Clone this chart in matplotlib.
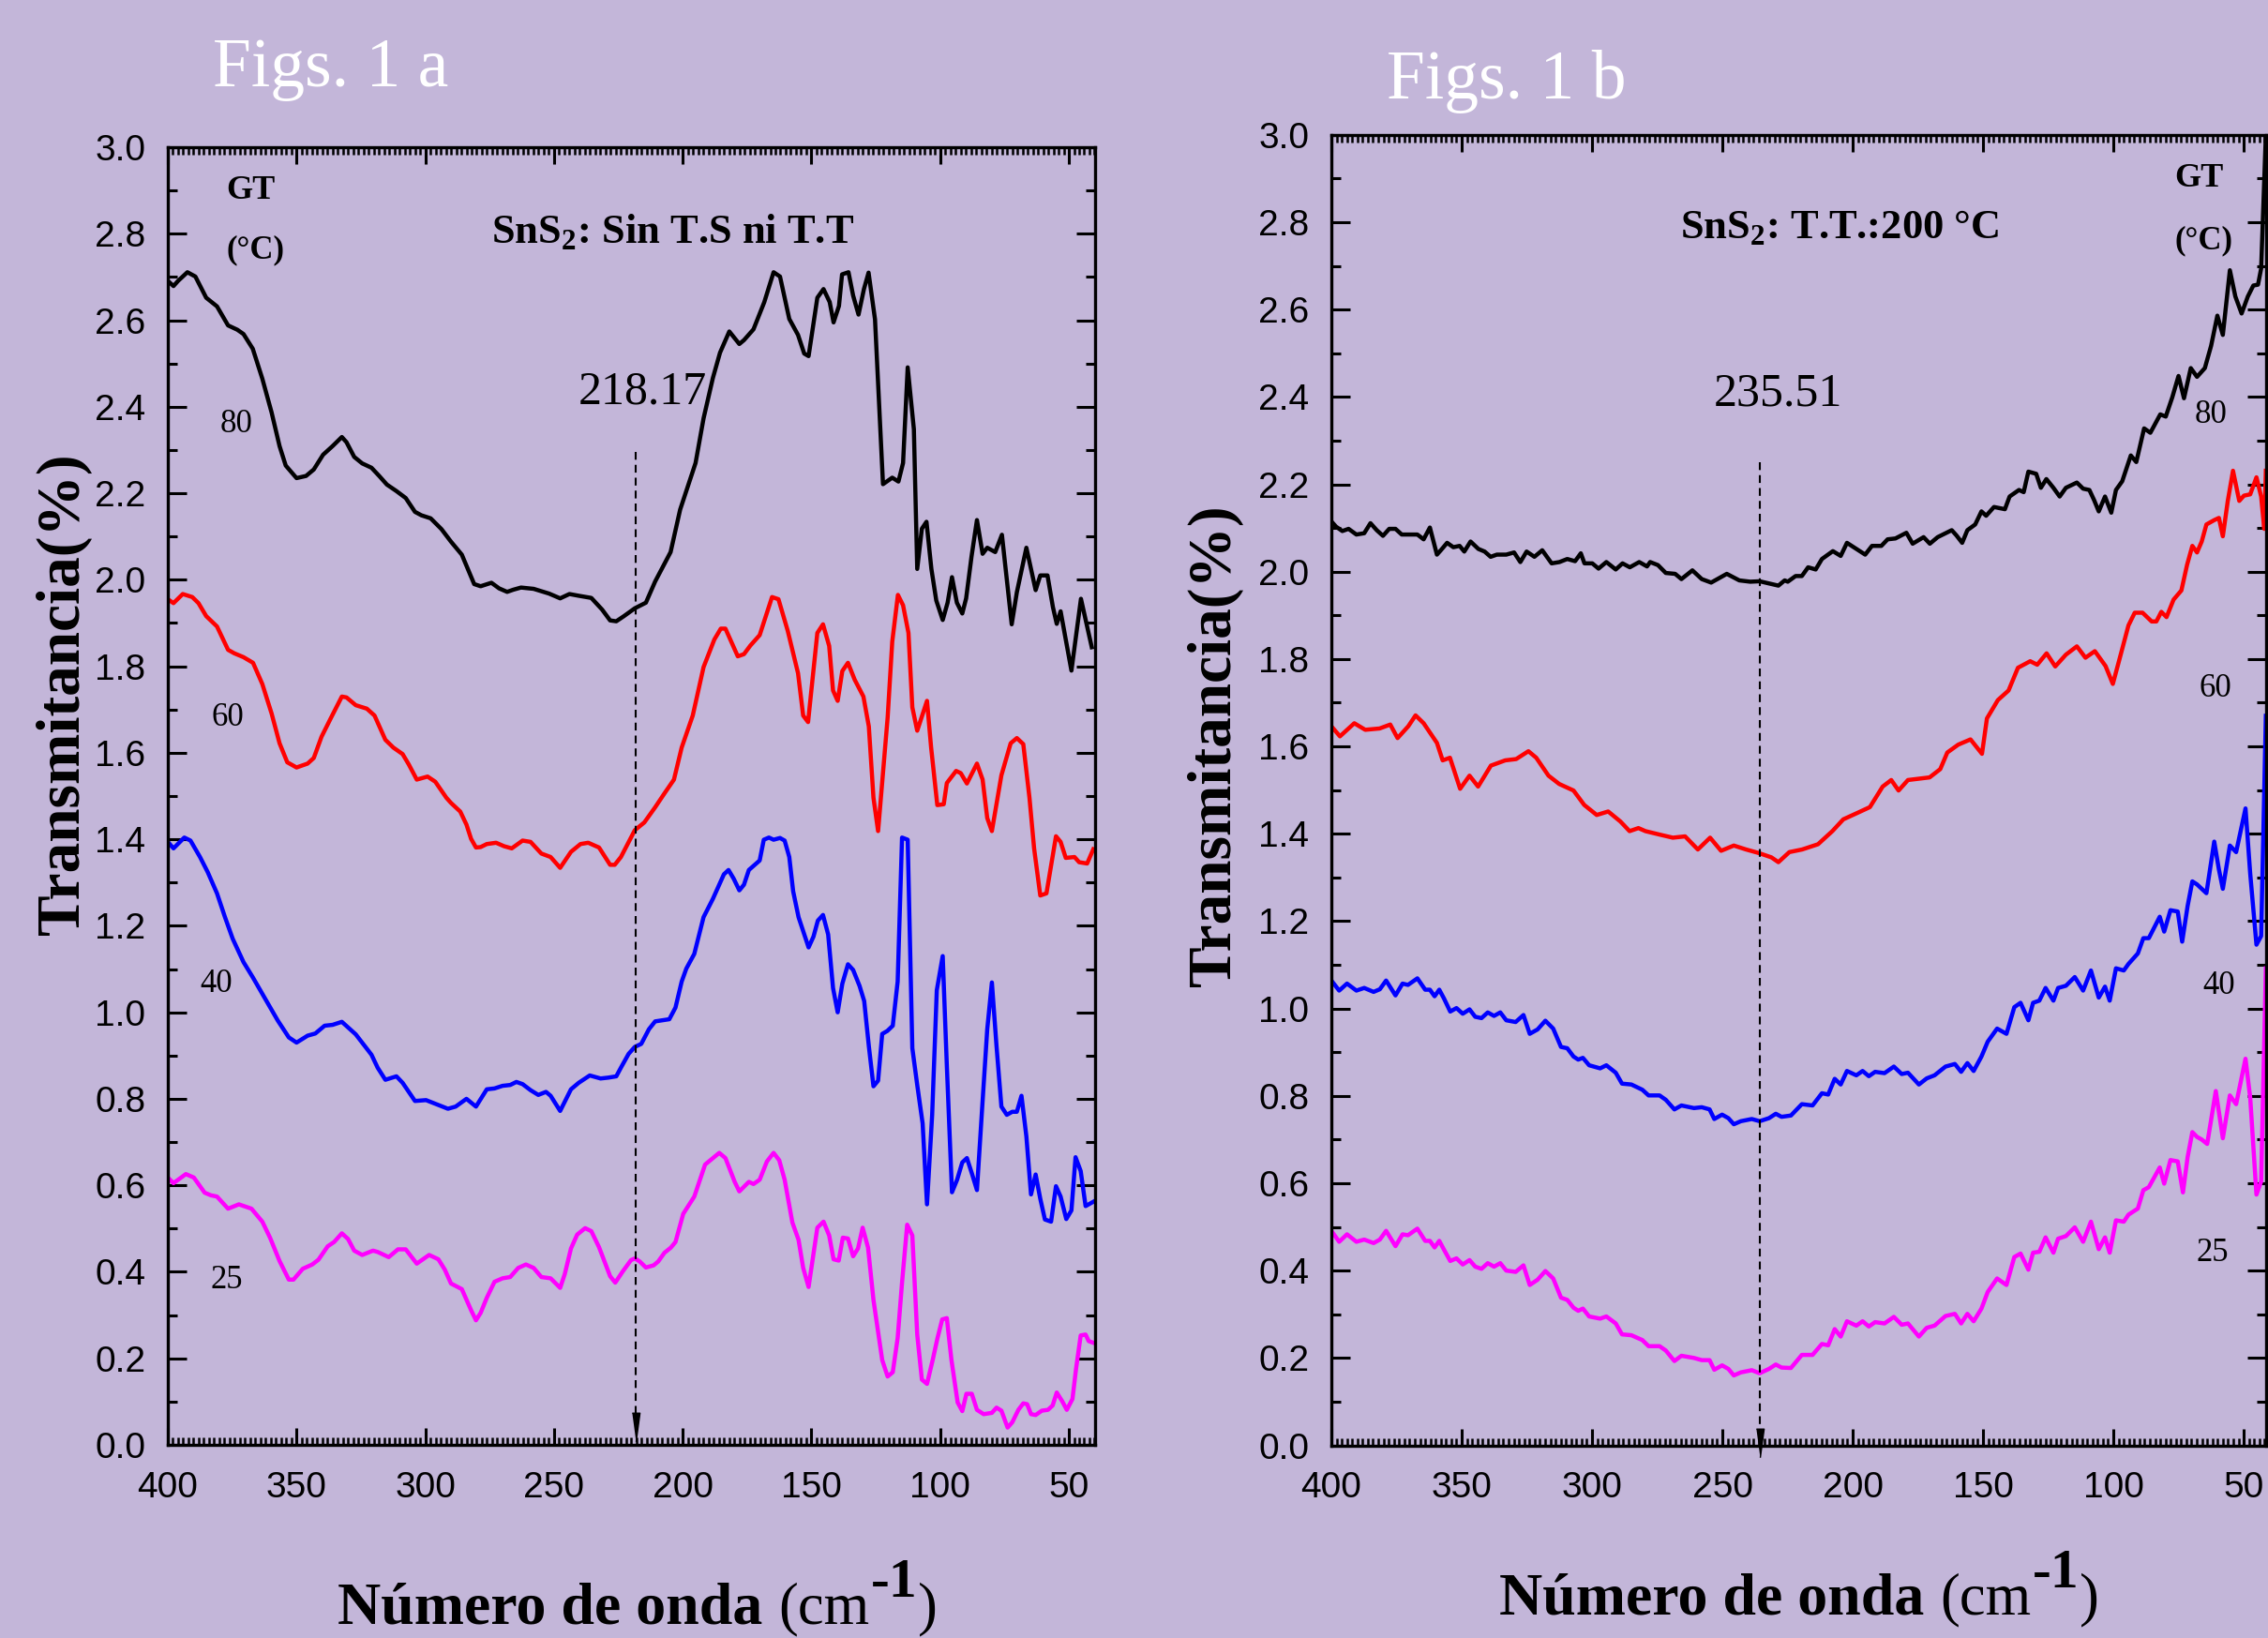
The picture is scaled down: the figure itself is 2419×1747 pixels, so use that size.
import numpy as np
import matplotlib as mpl

mpl.use('agg')

import matplotlib.pyplot as plt
from matplotlib.ticker import MultipleLocator, FormatStrFormatter

## Values: (wavenumber cm-1, transmittance %)
## Fig. 1a  -  SnS2 sin T.S ni T.T
a80 = np.array([
    (400, 2.691), (397.8, 2.679), (396.0, 2.691), (392.4, 2.711), (389.3, 2.701), (385.1, 2.652),
    (380.9, 2.632), (376.6, 2.588), (373.0, 2.578), (370.6, 2.568), (367.0, 2.534), (363.3, 2.465),
    (359.7, 2.387), (356.6, 2.309), (354.2, 2.264), (350.0, 2.235), (346.3, 2.240), (343.3, 2.255),
    (339.7, 2.289), (336.0, 2.309), (332.4, 2.330), (330.6, 2.318), (327.6, 2.284), (324.5, 2.269),
    (320.9, 2.259), (317.9, 2.240), (314.9, 2.220), (311.2, 2.205), (307.6, 2.189), (304.0, 2.157),
    (301.5, 2.149), (297.9, 2.142), (293.7, 2.117), (290.0, 2.088), (285.8, 2.058), (283.4, 2.024),
    (281.0, 1.990), (278.5, 1.985), (274.3, 1.993), (271.3, 1.980), (268.2, 1.972), (265.8, 1.977),
    (262.8, 1.982), (257.9, 1.979), (251.9, 1.968), (247.6, 1.957), (244.0, 1.967), (240.4, 1.963),
    (235.5, 1.958), (231.3, 1.931), (228.2, 1.906), (225.8, 1.904), (222.8, 1.916), (218.6, 1.934),
    (214.3, 1.947), (210.7, 1.996), (204.7, 2.064), (201.0, 2.162), (195.0, 2.270), (191.9, 2.373),
    (188.3, 2.466), (185.5, 2.525), (181.9, 2.574), (178.0, 2.545), (176.2, 2.554), (172.5, 2.579),
    (168.3, 2.642), (164.7, 2.711), (162.2, 2.701), (158.6, 2.603), (155.2, 2.566), (152.8, 2.523),
    (151.1, 2.517), (147.7, 2.652), (145.3, 2.672), (142.9, 2.642), (141.4, 2.595), (139.3, 2.633),
    (138.1, 2.706), (135.6, 2.711), (133.8, 2.657), (131.7, 2.613), (129.6, 2.672), (127.8, 2.710),
    (125.3, 2.602), (122.2, 2.221), (118.6, 2.236), (116.2, 2.227), (114.4, 2.270), (112.6, 2.491),
    (110.2, 2.348), (108.9, 2.025), (107.1, 2.118), (105.3, 2.134), (103.4, 2.025), (101.5, 1.952),
    (99.0, 1.907), (97.1, 1.947), (95.4, 2.006), (93.5, 1.947), (91.4, 1.922), (89.9, 1.957),
    (87.8, 2.054), (85.7, 2.138), (83.5, 2.060), (81.7, 2.074), (78.6, 2.064), (76.0, 2.104),
    (72.2, 1.897), (70.2, 1.971), (66.5, 2.074), (62.9, 1.976), (61.1, 2.010), (58.3, 2.010),
    (56.2, 1.937), (54.7, 1.898), (53.2, 1.927), (49.0, 1.790), (45.3, 1.956), (41.1, 1.844),
])
a60 = np.array([
    (400, 1.955), (397.8, 1.946), (394.2, 1.967), (390.5, 1.960), (388.1, 1.946), (385.1, 1.916),
    (380.9, 1.892), (376.6, 1.838), (374.2, 1.830), (370.6, 1.821), (366.9, 1.808), (363.3, 1.759),
    (359.7, 1.691), (356.6, 1.622), (353.6, 1.578), (350.0, 1.566), (345.7, 1.575), (343.3, 1.588),
    (340.3, 1.637), (336.6, 1.681), (332.4, 1.730), (330.6, 1.728), (327.0, 1.710), (322.7, 1.702),
    (319.7, 1.686), (315.5, 1.630), (312.4, 1.612), (308.8, 1.597), (306.4, 1.573), (303.3, 1.538),
    (299.1, 1.545), (296.1, 1.533), (291.8, 1.496), (290.0, 1.484), (286.4, 1.464), (284.0, 1.434),
    (282.2, 1.401), (280.3, 1.381), (278.5, 1.382), (276.1, 1.389), (272.5, 1.392), (269.4, 1.384),
    (266.4, 1.379), (262.2, 1.397), (259.1, 1.394), (254.9, 1.367), (251.3, 1.359), (247.6, 1.334),
    (243.4, 1.371), (239.7, 1.389), (236.7, 1.392), (232.5, 1.381), (228.2, 1.341), (226.4, 1.341),
    (224.0, 1.359), (218.6, 1.421), (214.9, 1.439), (210.7, 1.474), (207.1, 1.506), (203.4, 1.538),
    (200.4, 1.612), (196.1, 1.686), (191.9, 1.798), (187.7, 1.862), (185.2, 1.887), (183.4, 1.887),
    (178.6, 1.823), (176.2, 1.828), (173.7, 1.848), (170.1, 1.872), (165.3, 1.960), (162.8, 1.955),
    (159.2, 1.882), (155.2, 1.784), (153.2, 1.686), (151.3, 1.671), (147.7, 1.877), (145.5, 1.897),
    (143.1, 1.847), (141.6, 1.744), (139.8, 1.720), (138.0, 1.789), (135.8, 1.808), (133.2, 1.769),
    (129.8, 1.730), (127.7, 1.661), (125.9, 1.496), (124.1, 1.419), (120.4, 1.681), (118.6, 1.857),
    (116.4, 1.965), (114.4, 1.941), (112.3, 1.877), (110.8, 1.705), (108.9, 1.651), (105.1, 1.720),
    (103.5, 1.612), (101.1, 1.479), (98.6, 1.481), (97.4, 1.530), (93.8, 1.558), (92.0, 1.553),
    (89.6, 1.529), (85.7, 1.575), (83.5, 1.538), (81.7, 1.449), (79.9, 1.419), (76.2, 1.548),
    (72.6, 1.622), (70.2, 1.634), (67.7, 1.620), (65.3, 1.496), (63.5, 1.379), (61.1, 1.270),
    (58.7, 1.275), (55.0, 1.407), (53.2, 1.394), (51.2, 1.357), (47.8, 1.359), (46.0, 1.347),
    (42.9, 1.344), (40.5, 1.377),
])
a40 = np.array([
    (400, 1.394), (397.8, 1.379), (393.6, 1.404), (391.2, 1.397), (387.5, 1.359), (384.5, 1.324),
    (380.9, 1.275), (377.8, 1.220), (374.8, 1.170), (370.6, 1.116), (367.0, 1.081), (363.3, 1.043),
    (357.3, 0.981), (353.0, 0.942), (350.0, 0.930), (345.7, 0.946), (342.7, 0.951), (339.1, 0.969),
    (336.0, 0.971), (332.4, 0.978), (327.0, 0.949), (320.9, 0.902), (318.5, 0.872), (315.5, 0.844),
    (311.2, 0.852), (308.8, 0.837), (304.0, 0.795), (299.7, 0.797), (296.7, 0.790), (291.2, 0.777),
    (288.2, 0.782), (284.0, 0.800), (280.3, 0.782), (276.1, 0.822), (273.1, 0.824), (270.0, 0.830),
    (267.0, 0.832), (264.6, 0.839), (262.2, 0.834), (259.1, 0.820), (256.1, 0.809), (253.1, 0.816),
    (251.3, 0.807), (247.6, 0.772), (243.4, 0.822), (240.4, 0.837), (236.1, 0.854), (231.9, 0.847),
    (228.9, 0.849), (225.8, 0.852), (224.0, 0.872), (221.0, 0.904), (218.6, 0.920), (216.1, 0.927),
    (213.1, 0.961), (210.7, 0.979), (205.2, 0.984), (202.8, 1.011), (200.4, 1.071), (198.6, 1.101),
    (195.5, 1.135), (191.9, 1.220), (188.3, 1.262), (184.0, 1.319), (182.2, 1.329), (180.2, 1.309),
    (178.0, 1.282), (176.2, 1.295), (174.3, 1.329), (170.1, 1.351), (168.5, 1.399), (166.5, 1.404),
    (164.7, 1.399), (162.2, 1.403), (160.4, 1.397), (158.6, 1.359), (157.1, 1.280), (155.0, 1.220),
    (152.5, 1.175), (151.1, 1.150), (149.2, 1.175), (147.5, 1.212), (145.5, 1.225), (143.5, 1.180),
    (141.6, 1.056), (139.8, 1.000), (138.0, 1.066), (135.8, 1.111), (133.8, 1.098), (131.3, 1.061),
    (129.5, 1.026), (127.7, 0.922), (125.9, 0.829), (124.1, 0.842), (122.5, 0.950), (120.5, 0.957),
    (118.4, 0.969), (116.5, 1.071), (114.8, 1.404), (112.6, 1.399), (110.8, 0.917), (108.9, 0.832),
    (106.8, 0.743), (105.1, 0.556), (103.1, 0.763), (101.3, 1.051), (99.0, 1.130), (97.4, 0.877),
    (95.4, 0.584), (93.4, 0.613), (91.4, 0.653), (89.6, 0.663), (87.7, 0.628), (85.7, 0.589),
    (83.7, 0.777), (81.7, 0.961), (79.9, 1.069), (78.1, 0.922), (76.2, 0.782), (74.1, 0.763),
    (72.0, 0.770), (70.2, 0.770), (68.4, 0.807), (66.5, 0.713), (64.7, 0.579), (62.9, 0.625),
    (61.1, 0.569), (59.3, 0.521), (56.9, 0.516), (55.0, 0.598), (53.2, 0.574), (51.0, 0.522),
    (49.0, 0.542), (47.4, 0.665), (45.4, 0.633), (43.5, 0.552), (40.5, 0.562),
])
a25 = np.array([
    (400, 0.618), (397.8, 0.605), (393.0, 0.626), (389.9, 0.618), (385.7, 0.583), (383.3, 0.577),
    (380.9, 0.574), (376.6, 0.546), (372.4, 0.556), (367.5, 0.546), (363.3, 0.516), (360.3, 0.479),
    (356.6, 0.425), (353.0, 0.382), (351.2, 0.382), (347.6, 0.407), (343.9, 0.417), (341.5, 0.428),
    (337.9, 0.459), (335.4, 0.469), (332.4, 0.489), (330.0, 0.476), (327.6, 0.449), (324.5, 0.439),
    (320.3, 0.449), (318.5, 0.446), (314.2, 0.434), (310.6, 0.452), (307.6, 0.452), (303.3, 0.419),
    (298.5, 0.439), (294.9, 0.429), (292.4, 0.405), (290.0, 0.373), (285.8, 0.360), (282.1, 0.310),
    (280.3, 0.288), (278.5, 0.305), (276.1, 0.340), (273.1, 0.377), (270.0, 0.385), (267.0, 0.388),
    (263.9, 0.409), (260.9, 0.417), (257.9, 0.409), (254.9, 0.388), (251.3, 0.385), (247.6, 0.363),
    (245.8, 0.395), (243.4, 0.454), (241.0, 0.486), (237.9, 0.501), (235.5, 0.494), (232.5, 0.457),
    (228.2, 0.390), (226.2, 0.375), (223.4, 0.400), (220.1, 0.427), (218.6, 0.431), (216.7, 0.424),
    (214.3, 0.410), (211.3, 0.415), (209.5, 0.424), (207.1, 0.444), (204.6, 0.456), (202.8, 0.469),
    (199.8, 0.534), (195.5, 0.574), (191.3, 0.648), (185.8, 0.675), (183.4, 0.663), (179.8, 0.608),
    (178.0, 0.586), (174.3, 0.608), (172.5, 0.603), (170.1, 0.613), (167.3, 0.655), (164.7, 0.675),
    (162.5, 0.658), (160.4, 0.613), (157.4, 0.514), (155.0, 0.474), (153.2, 0.409), (151.1, 0.365),
    (147.7, 0.502), (145.3, 0.516), (143.1, 0.484), (141.4, 0.429), (139.4, 0.426), (137.8, 0.479),
    (135.8, 0.477), (133.8, 0.436), (131.9, 0.454), (130.1, 0.502), (128.0, 0.456), (125.9, 0.335),
    (122.5, 0.196), (120.4, 0.158), (118.4, 0.168), (116.5, 0.247), (114.8, 0.375), (112.8, 0.509),
    (110.8, 0.484), (108.9, 0.255), (107.1, 0.151), (105.1, 0.141), (102.9, 0.196), (101.1, 0.245),
    (99.2, 0.290), (97.4, 0.293), (95.6, 0.196), (93.2, 0.098), (91.4, 0.078), (89.8, 0.118),
    (87.7, 0.118), (85.7, 0.081), (83.1, 0.071), (79.9, 0.074), (78.1, 0.086), (76.2, 0.079),
    (73.8, 0.040), (72.0, 0.052), (69.6, 0.081), (67.7, 0.096), (66.2, 0.094), (64.7, 0.071),
    (62.9, 0.069), (60.5, 0.079), (58.1, 0.081), (56.3, 0.091), (54.7, 0.121), (52.6, 0.101),
    (50.8, 0.081), (48.6, 0.106), (47.2, 0.176), (45.4, 0.253), (43.5, 0.255), (42.3, 0.240),
    (40.5, 0.236),
])

## Fig. 1b  -  SnS2 T.T. 200 C
b80 = np.array([
    (400, 2.115), (398.2, 2.103), (395.8, 2.093), (393.4, 2.098), (390.4, 2.085), (387.4, 2.088),
    (385.0, 2.111), (382.6, 2.095), (380.2, 2.082), (377.8, 2.098), (375.4, 2.098), (373.0, 2.085),
    (369.4, 2.085), (367.0, 2.085), (364.6, 2.074), (362.2, 2.101), (359.5, 2.039), (358.0, 2.049),
    (355.6, 2.066), (353.2, 2.056), (350.8, 2.059), (349.0, 2.046), (346.6, 2.069), (343.6, 2.052),
    (341.2, 2.046), (338.9, 2.034), (336.5, 2.039), (332.9, 2.039), (329.9, 2.044), (327.5, 2.022),
    (325.1, 2.046), (322.1, 2.034), (319.1, 2.049), (315.5, 2.019), (312.5, 2.022), (309.5, 2.029),
    (306.5, 2.024), (304.3, 2.042), (302.9, 2.019), (299.9, 2.019), (297.5, 2.007), (294.5, 2.022),
    (290.9, 2.005), (288.3, 2.019), (285.5, 2.010), (281.9, 2.022), (278.9, 2.012), (277.7, 2.022),
    (274.7, 2.015), (271.7, 1.997), (268.1, 1.995), (265.7, 1.983), (261.5, 2.003), (257.9, 1.983),
    (254.3, 1.975), (251.9, 1.983), (248.3, 1.995), (243.5, 1.980), (239.3, 1.977), (235.7, 1.978),
    (232.1, 1.973), (228.5, 1.968), (226.1, 1.980), (224.9, 1.977), (221.9, 1.990), (219.5, 1.990),
    (217.1, 2.010), (214.2, 2.005), (211.8, 2.029), (207.6, 2.047), (204.6, 2.036), (202.2, 2.066),
    (198.6, 2.052), (195.2, 2.039), (192.6, 2.059), (189.0, 2.059), (186.6, 2.074), (183.6, 2.076),
    (179.4, 2.089), (177.0, 2.064), (172.8, 2.079), (170.4, 2.064), (167.4, 2.079), (162.0, 2.095),
    (160.2, 2.083), (158.0, 2.066), (156.0, 2.095), (153.0, 2.108), (150.6, 2.138), (148.8, 2.128),
    (145.8, 2.148), (141.6, 2.143), (139.8, 2.172), (136.2, 2.187), (134.4, 2.182), (132.6, 2.229),
    (129.6, 2.224), (127.8, 2.192), (125.7, 2.212), (123.0, 2.192), (120.6, 2.172), (118.2, 2.192),
    (114.0, 2.204), (111.6, 2.190), (109.2, 2.187), (107.4, 2.164), (105.6, 2.138), (103.2, 2.172),
    (100.8, 2.135), (99.0, 2.187), (96.6, 2.207), (93.3, 2.266), (91.2, 2.251), (88.2, 2.328),
    (85.8, 2.318), (82.0, 2.360), (79.9, 2.355), (77.4, 2.399), (75.0, 2.448), (72.9, 2.397),
    (70.3, 2.466), (67.9, 2.446), (64.9, 2.466), (62.5, 2.517), (60.1, 2.586), (58.0, 2.542),
    (55.3, 2.690), (53.2, 2.630), (50.8, 2.591), (48.4, 2.630), (46.3, 2.655), (44.5, 2.657),
    (43.3, 2.694), (41.5, 3.000),
])
b60 = np.array([
    (400, 1.646), (396.7, 1.623), (391.2, 1.653), (387.0, 1.638), (381.5, 1.641), (377.4, 1.650),
    (374.6, 1.619), (370.5, 1.646), (367.7, 1.671), (364.6, 1.653), (359.5, 1.608), (357.3, 1.568),
    (354.5, 1.574), (350.6, 1.503), (347.0, 1.533), (343.7, 1.508), (338.8, 1.556), (333.3, 1.568),
    (329.1, 1.571), (324.4, 1.589), (321.4, 1.574), (316.7, 1.533), (312.6, 1.514), (307.1, 1.499),
    (303.0, 1.466), (298.2, 1.443), (293.8, 1.451), (289.1, 1.428), (285.6, 1.406), (282.2, 1.413),
    (279.5, 1.406), (274.0, 1.398), (269.0, 1.391), (264.3, 1.394), (259.4, 1.364), (254.7, 1.391),
    (250.5, 1.361), (245.6, 1.373), (240.9, 1.364), (236.1, 1.356), (231.2, 1.346), (228.5, 1.335),
    (224.3, 1.358), (219.4, 1.364), (213.3, 1.376), (207.8, 1.406), (203.6, 1.433), (198.1, 1.448),
    (193.4, 1.461), (188.5, 1.508), (185.2, 1.523), (182.4, 1.499), (178.8, 1.523), (170.5, 1.529),
    (166.4, 1.548), (163.7, 1.586), (159.5, 1.604), (154.8, 1.616), (150.4, 1.583), (148.5, 1.664),
    (144.3, 1.706), (140.2, 1.728), (136.6, 1.780), (131.9, 1.795), (129.2, 1.787), (125.6, 1.813),
    (122.3, 1.783), (118.2, 1.810), (114.0, 1.829), (110.7, 1.803), (107.1, 1.818), (103.0, 1.784),
    (100.2, 1.743), (97.5, 1.803), (94.2, 1.877), (91.8, 1.906), (88.8, 1.906), (85.3, 1.886),
    (83.5, 1.886), (81.6, 1.908), (79.6, 1.896), (76.9, 1.936), (73.9, 1.957), (71.7, 2.016),
    (69.7, 2.059), (67.9, 2.044), (66.1, 2.069), (64.3, 2.108), (61.3, 2.118), (59.5, 2.123),
    (58.0, 2.081), (56.1, 2.162), (54.1, 2.231), (51.7, 2.162), (49.9, 2.174), (47.5, 2.177),
    (45.1, 2.216), (43.3, 2.172), (42.1, 2.098), (41.5, 2.231),
])
b40 = np.array([
    (400, 1.064), (397.0, 1.041), (394.0, 1.057), (390.4, 1.041), (387.4, 1.047), (383.8, 1.038),
    (381.4, 1.044), (379.0, 1.064), (375.4, 1.030), (372.7, 1.057), (370.6, 1.054), (367.0, 1.069),
    (364.0, 1.043), (362.2, 1.043), (360.4, 1.028), (358.6, 1.043), (356.8, 1.023), (354.4, 0.993),
    (352.0, 1.001), (349.6, 0.988), (347.0, 0.998), (344.8, 0.981), (342.4, 0.978), (340.0, 0.991),
    (337.6, 0.983), (335.2, 0.991), (332.9, 0.973), (329.3, 0.969), (326.3, 0.985), (323.9, 0.942),
    (320.9, 0.952), (317.9, 0.972), (314.9, 0.954), (311.9, 0.912), (309.5, 0.909), (307.1, 0.890),
    (305.3, 0.883), (303.5, 0.887), (301.1, 0.870), (296.9, 0.863), (294.5, 0.870), (290.9, 0.853),
    (288.5, 0.828), (284.9, 0.826), (280.7, 0.814), (278.3, 0.801), (274.1, 0.801), (271.7, 0.791),
    (268.4, 0.769), (265.7, 0.778), (260.9, 0.772), (257.9, 0.774), (254.9, 0.769), (253.1, 0.747),
    (250.1, 0.757), (247.7, 0.749), (245.6, 0.735), (242.9, 0.742), (238.7, 0.747), (235.7, 0.742),
    (232.1, 0.749), (229.5, 0.759), (227.3, 0.752), (223.7, 0.755), (219.5, 0.781), (215.4, 0.778),
    (211.8, 0.806), (209.4, 0.803), (206.9, 0.839), (204.6, 0.826), (202.2, 0.857), (198.6, 0.847),
    (196.2, 0.857), (193.8, 0.845), (191.4, 0.855), (187.8, 0.852), (184.2, 0.867), (181.2, 0.850),
    (178.8, 0.853), (174.6, 0.826), (171.6, 0.840), (168.6, 0.847), (164.4, 0.867), (160.8, 0.873),
    (158.4, 0.855), (156.0, 0.875), (153.6, 0.857), (150.6, 0.890), (148.2, 0.924), (144.6, 0.954),
    (141.0, 0.942), (138.0, 1.003), (135.6, 1.013), (132.6, 0.973), (130.8, 1.013), (128.4, 1.018),
    (126.0, 1.047), (123.0, 1.018), (121.2, 1.047), (118.2, 1.052), (114.8, 1.072), (111.6, 1.041),
    (108.6, 1.087), (105.6, 1.025), (103.2, 1.050), (101.4, 1.018), (99.0, 1.092), (96.0, 1.087),
    (94.2, 1.102), (90.6, 1.126), (88.5, 1.161), (86.4, 1.161), (82.2, 1.210), (80.5, 1.176),
    (78.1, 1.225), (75.3, 1.222), (73.6, 1.153), (71.5, 1.235), (69.7, 1.291), (67.9, 1.284),
    (66.1, 1.274), (64.3, 1.264), (61.3, 1.382), (59.5, 1.318), (58.0, 1.274), (55.3, 1.373),
    (52.9, 1.358), (49.3, 1.458), (47.5, 1.309), (45.1, 1.146), (43.3, 1.166), (41.5, 1.670),
])
b25 = np.array([
    (400, 0.491), (397.0, 0.466), (394.0, 0.483), (390.4, 0.466), (387.4, 0.471), (383.8, 0.463),
    (381.4, 0.471), (379.0, 0.491), (375.4, 0.456), (372.7, 0.483), (370.6, 0.481), (367.0, 0.496),
    (364.0, 0.468), (362.2, 0.468), (360.4, 0.453), (358.6, 0.468), (356.8, 0.448), (354.4, 0.422),
    (352.0, 0.428), (349.6, 0.414), (347.0, 0.424), (344.8, 0.409), (342.4, 0.404), (340.0, 0.417),
    (337.6, 0.409), (335.2, 0.417), (332.9, 0.400), (329.3, 0.397), (326.3, 0.412), (323.9, 0.367),
    (320.9, 0.379), (317.9, 0.399), (314.9, 0.382), (311.9, 0.338), (309.5, 0.333), (307.1, 0.315),
    (305.3, 0.308), (303.5, 0.313), (301.1, 0.295), (296.9, 0.290), (294.5, 0.295), (290.9, 0.279),
    (288.5, 0.254), (284.9, 0.252), (280.7, 0.241), (278.3, 0.227), (274.1, 0.227), (271.7, 0.217),
    (268.4, 0.193), (265.7, 0.205), (260.9, 0.200), (257.9, 0.195), (254.9, 0.195), (253.1, 0.173),
    (250.1, 0.183), (247.7, 0.175), (245.6, 0.160), (242.9, 0.167), (238.7, 0.172), (235.7, 0.165),
    (232.1, 0.175), (229.5, 0.185), (227.3, 0.178), (223.7, 0.177), (219.5, 0.207), (215.4, 0.207),
    (211.8, 0.232), (209.4, 0.229), (206.9, 0.266), (204.6, 0.249), (202.2, 0.284), (198.6, 0.274),
    (196.2, 0.284), (193.8, 0.272), (191.4, 0.282), (187.8, 0.279), (184.2, 0.294), (181.2, 0.276),
    (178.8, 0.279), (174.6, 0.249), (171.6, 0.269), (168.6, 0.274), (164.4, 0.296), (160.8, 0.301),
    (158.4, 0.279), (156.0, 0.301), (153.6, 0.284), (150.6, 0.313), (148.2, 0.351), (144.6, 0.382),
    (141.0, 0.367), (138.0, 0.431), (135.6, 0.439), (132.6, 0.402), (130.8, 0.441), (128.4, 0.443),
    (126.0, 0.476), (123.0, 0.441), (121.2, 0.473), (118.2, 0.479), (114.8, 0.499), (111.6, 0.466),
    (108.6, 0.512), (105.6, 0.449), (103.2, 0.476), (101.4, 0.441), (99.0, 0.515), (96.0, 0.512),
    (94.2, 0.528), (90.6, 0.542), (88.5, 0.584), (86.4, 0.591), (82.2, 0.636), (80.5, 0.599),
    (78.1, 0.653), (75.3, 0.650), (73.3, 0.579), (71.5, 0.660), (69.7, 0.717), (67.9, 0.706),
    (66.1, 0.700), (64.0, 0.690), (60.7, 0.811), (58.0, 0.703), (55.3, 0.801), (52.9, 0.781),
    (49.3, 0.885), (47.5, 0.796), (45.1, 0.574), (43.3, 0.604), (41.5, 1.092),
])

temps = ['80', '60', '40', '25']
colors = ['black', '#ff0000', '#0000ff', '#ff00ff']
peak_a = 218.17
peak_b = 235.51

BG = '#c3b6d9'
SERIF = 'Liberation Serif'

plt.rcParams['font.family'] = 'Liberation Sans'
plt.rcParams['mathtext.fontset'] = 'custom'
plt.rcParams['mathtext.rm'] = SERIF
plt.rcParams['mathtext.bf'] = SERIF + ':bold'

W, H = 2419, 1747
fig = plt.figure(figsize=(W / 100.0, H / 100.0), dpi=100, facecolor=BG)


def px_axes(x0, y0, x1, y1):
    # axes box given in pixels of the picture (top-left origin)
    return fig.add_axes([x0 / W, 1 - y1 / H, (x1 - x0) / W, (y1 - y0) / H])


def style(ax, xright):
    ax.set_facecolor(BG)
    ax.set_xlim(400, xright)
    ax.set_ylim(0, 3.0)
    ax.xaxis.set_major_locator(MultipleLocator(50))
    ax.xaxis.set_minor_locator(MultipleLocator(2))
    ax.yaxis.set_major_locator(MultipleLocator(0.2))
    ax.yaxis.set_minor_locator(MultipleLocator(0.1))
    ax.yaxis.set_major_formatter(FormatStrFormatter('%.1f'))
    ax.tick_params(which='both', direction='in', top=True, right=True, labelsize=28)
    ax.tick_params(axis='x', which='major', length=13, width=2.2, pad=20)
    ax.tick_params(axis='x', which='minor', length=6, width=1.8)
    ax.tick_params(axis='y', which='major', length=14.5, width=2.2, pad=17)
    ax.tick_params(axis='y', which='minor', length=7, width=2.2)
    for s in ax.spines.values():
        s.set_linewidth(2.4)


def peak_marker(ax, x, ytop, ytip, label, xlab, ylab):
    ax.plot([x, x], [ytop, ytip + 0.06], color='black', lw=1.5, dashes=(4, 2.6))
    ax.plot([x], [ytip + 0.032], marker=[(-0.27, 1), (0.27, 1), (0, -1)],
            ms=22, color='black', clip_on=False)
    ax.text(xlab, ylab, label, fontsize=36, family=SERIF, ha='center', va='baseline')


## ---- Fig. 1a
ax1 = px_axes(179, 157, 1168.3, 1541)
style(ax1, 39.7)
for arr, col in zip([a80, a60, a40, a25], colors):
    ax1.plot(arr[:, 0], arr[:, 1], color=col, lw=3.2, solid_joinstyle='round')
peak_marker(ax1, peak_a, 2.295, 0.01, '%.2f' % peak_a, 215.4, 2.407)
ax1.text(377.2, 2.899, 'GT', fontsize=26, weight='bold', family=SERIF, va='center')
ax1.text(377.2, 2.761, '(°C)', fontsize=25, weight='bold', family=SERIF, va='center')
ax1.text(203.7, 2.777, r'SnS$_{\mathbf{2}}$: Sin T.S ni T.T', fontsize=32, weight='bold',
         family=SERIF, ha='center', va='baseline')
for t, (x, y) in zip(temps, [(373.4, 2.340), (376.9, 1.663), (381.2, 1.046), (377.3, 0.363)]):
    ax1.text(x, y, t, fontsize=25, family=SERIF, ha='center', va='baseline')

## ---- Fig. 1b
ax2 = px_axes(1420, 143.8, 2416.7, 1541.5)
style(ax2, 41.5)
for arr, col in zip([b80, b60, b40, b25], colors):
    ax2.plot(arr[:, 0], arr[:, 1], color=col, lw=3.2, solid_joinstyle='round')
peak_marker(ax2, peak_b, 2.251, -0.027, '%.2f' % peak_b, 228.6, 2.381)
ax2.text(76.6, 2.899, 'GT', fontsize=26, weight='bold', family=SERIF, va='center')
ax2.text(76.6, 2.757, '(°C)', fontsize=25, weight='bold', family=SERIF, va='center')
ax2.text(205.2, 2.762, r'SnS$_{\mathbf{2}}$: T.T.:200 °C', fontsize=32, weight='bold',
         family=SERIF, ha='center', va='baseline')
for t, (x, y) in zip(temps, [(62.7, 2.340), (61.0, 1.714), (59.4, 1.033), (62.0, 0.422)]):
    ax2.text(x, y, t, fontsize=25, family=SERIF, ha='center', va='baseline')

## ---- titles and axis labels (placed in picture pixels)
fig.text(227 / W, 1 - 91.5 / H, 'Figs. 1 a', color='white', fontsize=53, family=SERIF, va='baseline')
fig.text(1479 / W, 1 - 105 / H, 'Figs. 1 b', color='white', fontsize=53, family=SERIF, va='baseline')

for xc, yc in [(68, 740), (1296, 795)]:
    fig.text(xc / W, 1 - yc / H, 'Transmitancia(%)', rotation=90, fontsize=47, weight='bold',
             family=SERIF, ha='center', va='center')

renderer = fig.canvas.get_renderer()


def chained(x0, base, parts):
    # write pieces one after the other on a common baseline (pixels)
    x = x0
    for s, size, weight, rise in parts:
        t = fig.text(x / W, 1 - (base - rise) / H, s, fontsize=size, weight=weight,
                     family=SERIF, ha='left', va='baseline')
        x = t.get_window_extent(renderer).x1 + 1


xl_parts = [('Número de onda', 46, 'bold', 0), (' ', 44, 'bold', 0), ('(cm', 45, 'normal', 0),
            ('-1', 43, 'bold', 28), (')', 45, 'normal', 0)]
chained(360, 1731, xl_parts)
chained(1599, 1721, xl_parts)

fig.savefig('out.png', dpi=100, facecolor=BG)
